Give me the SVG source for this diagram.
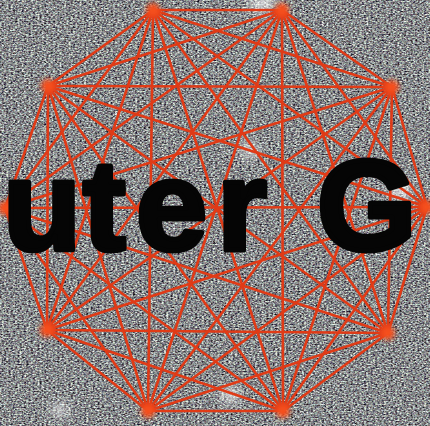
<svg xmlns="http://www.w3.org/2000/svg" width="430" height="426" viewBox="0 0 430 426">
  <defs>
    <filter id="noise" x="0" y="0" width="430" height="426" filterUnits="userSpaceOnUse" color-interpolation-filters="sRGB">
      <feTurbulence type="fractalNoise" baseFrequency="0.45 0.7" numOctaves="2" seed="7" result="t"/>
      <feColorMatrix in="t" type="saturate" values="0.12" result="s"/>
      <feComponentTransfer in="s">
        <feFuncR type="linear" slope="2.1" intercept="-0.52"/>
        <feFuncG type="linear" slope="2.1" intercept="-0.51"/>
        <feFuncB type="linear" slope="2.1" intercept="-0.50"/>
        <feFuncA type="linear" slope="0" intercept="1"/>
      </feComponentTransfer>
    </filter>
    <filter id="soft" x="-50%" y="-50%" width="200%" height="200%">
      <feGaussianBlur stdDeviation="6"/>
    </filter>
    <filter id="glow" x="-10%" y="-10%" width="120%" height="120%">
      <feGaussianBlur stdDeviation="0.7"/>
    </filter>
    <filter id="blob" x="-100%" y="-100%" width="300%" height="300%">
      <feGaussianBlur stdDeviation="2.5"/>
    </filter>
    <style>
      .e { stroke: #e03a18; stroke-width: 2.6; stroke-linecap: round; }
      .v { fill: #f5501e; }
      .txt { font-family: "Liberation Sans", Arial, sans-serif; font-weight: bold; font-size: 128px; fill: #050505; stroke: #050505; stroke-width: 5; stroke-linejoin: round; }
    </style>
  </defs>

  <rect width="430" height="426" fill="#8a8a8a"/>
  <rect width="430" height="426" filter="url(#noise)" opacity="0.9"/>
  <g fill="#ffffff" filter="url(#soft)" opacity="0.75">
    <ellipse cx="262" cy="4" rx="14" ry="8"/>
    <ellipse cx="400" cy="190" rx="12" ry="10"/>
    <ellipse cx="230" cy="395" rx="10" ry="8"/>
    <ellipse cx="60" cy="410" rx="8" ry="7"/>
    <ellipse cx="250" cy="150" rx="10" ry="7"/>
  </g>

  <g id="connectors" filter="url(#glow)">
    <line class="e" x1="153" y1="10" x2="282" y2="10"/>
    <line class="e" x1="153" y1="10" x2="392" y2="87"/>
    <line class="e" x1="153" y1="10" x2="427" y2="207"/>
    <line class="e" x1="153" y1="10" x2="388" y2="333"/>
    <line class="e" x1="153" y1="10" x2="283" y2="411"/>
    <line class="e" x1="153" y1="10" x2="148" y2="411"/>
    <line class="e" x1="153" y1="10" x2="47" y2="330"/>
    <line class="e" x1="153" y1="10" x2="5" y2="208"/>
    <line class="e" x1="153" y1="10" x2="48" y2="86"/>
    <line class="e" x1="282" y1="10" x2="392" y2="87"/>
    <line class="e" x1="282" y1="10" x2="427" y2="207"/>
    <line class="e" x1="282" y1="10" x2="388" y2="333"/>
    <line class="e" x1="282" y1="10" x2="283" y2="411"/>
    <line class="e" x1="282" y1="10" x2="148" y2="411"/>
    <line class="e" x1="282" y1="10" x2="47" y2="330"/>
    <line class="e" x1="282" y1="10" x2="5" y2="208"/>
    <line class="e" x1="282" y1="10" x2="48" y2="86"/>
    <line class="e" x1="392" y1="87" x2="427" y2="207"/>
    <line class="e" x1="392" y1="87" x2="388" y2="333"/>
    <line class="e" x1="392" y1="87" x2="283" y2="411"/>
    <line class="e" x1="392" y1="87" x2="148" y2="411"/>
    <line class="e" x1="392" y1="87" x2="47" y2="330"/>
    <line class="e" x1="392" y1="87" x2="5" y2="208"/>
    <line class="e" x1="392" y1="87" x2="48" y2="86"/>
    <line class="e" x1="427" y1="207" x2="388" y2="333"/>
    <line class="e" x1="427" y1="207" x2="283" y2="411"/>
    <line class="e" x1="427" y1="207" x2="148" y2="411"/>
    <line class="e" x1="427" y1="207" x2="47" y2="330"/>
    <line class="e" x1="427" y1="207" x2="5" y2="208"/>
    <line class="e" x1="427" y1="207" x2="48" y2="86"/>
    <line class="e" x1="388" y1="333" x2="283" y2="411"/>
    <line class="e" x1="388" y1="333" x2="148" y2="411"/>
    <line class="e" x1="388" y1="333" x2="47" y2="330"/>
    <line class="e" x1="388" y1="333" x2="5" y2="208"/>
    <line class="e" x1="388" y1="333" x2="48" y2="86"/>
    <line class="e" x1="283" y1="411" x2="148" y2="411"/>
    <line class="e" x1="283" y1="411" x2="47" y2="330"/>
    <line class="e" x1="283" y1="411" x2="5" y2="208"/>
    <line class="e" x1="283" y1="411" x2="48" y2="86"/>
    <line class="e" x1="148" y1="411" x2="47" y2="330"/>
    <line class="e" x1="148" y1="411" x2="5" y2="208"/>
    <line class="e" x1="148" y1="411" x2="48" y2="86"/>
    <line class="e" x1="47" y1="330" x2="5" y2="208"/>
    <line class="e" x1="47" y1="330" x2="48" y2="86"/>
    <line class="e" x1="5" y1="208" x2="48" y2="86"/>
  </g>

  <g filter="url(#blob)">
    <g id="v0"><circle class="v" cx="153" cy="10" r="7"/></g>
    <g id="v1"><circle class="v" cx="282" cy="10" r="7"/></g>
    <g id="v2"><circle class="v" cx="392" cy="87" r="7"/></g>
    <g id="v3"><circle class="v" cx="427" cy="207" r="7"/></g>
    <g id="v4"><circle class="v" cx="388" cy="333" r="7"/></g>
    <g id="v5"><circle class="v" cx="283" cy="411" r="7"/></g>
    <g id="v6"><circle class="v" cx="148" cy="411" r="7"/></g>
    <g id="v7"><circle class="v" cx="47" cy="330" r="7"/></g>
    <g id="v8"><circle class="v" cx="5" cy="208" r="7"/></g>
    <g id="v9"><circle class="v" cx="48" cy="86" r="7"/></g>
  </g>

  <text class="txt" y="250"><tspan x="3">u</tspan><tspan x="83">t</tspan><tspan x="136">e</tspan><tspan x="217">r</tspan><tspan x="317">G</tspan></text>
</svg>
